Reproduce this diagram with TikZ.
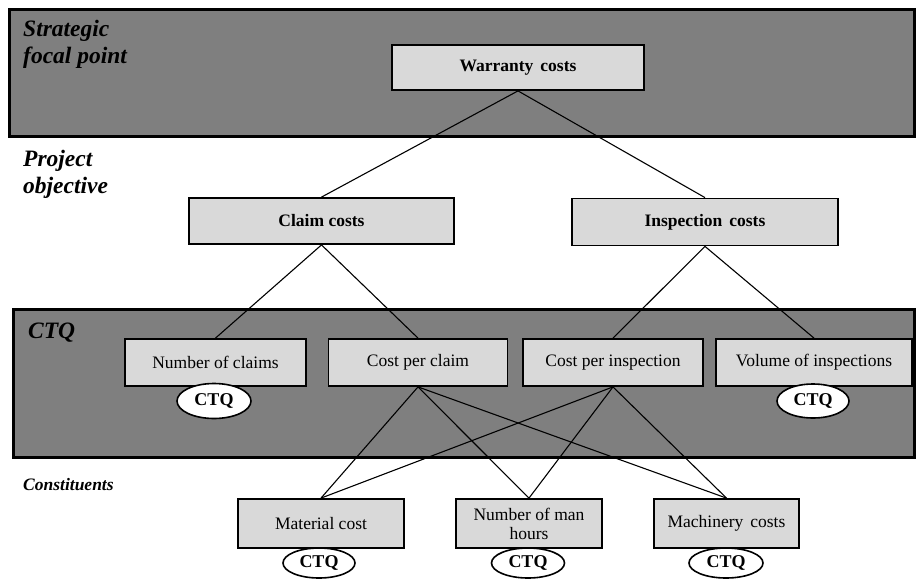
\documentclass[tikz,border=0pt]{standalone}
\usepackage{fontspec}
\setmainfont{Liberation Serif}
\usetikzlibrary{shapes.geometric}
\definecolor{bandgray}{HTML}{7F7F7F}
\definecolor{boxgray}{HTML}{D9D9D9}
\begin{document}
\begin{tikzpicture}[x=1pt,y=-1pt,
  band/.style={draw=black,line width=3pt,fill=bandgray},
  bandlabel/.style={anchor=base west,inner sep=0,font=\fontsize{23.5}{27}\selectfont\bfseries\itshape,align=left},
  boxnode/.style={draw=black,line width=1.8pt,fill=boxgray,inner sep=0,font=\fontsize{17.5}{19}\selectfont,align=center},
  topbox/.style={boxnode,font=\fontsize{17.5}{19}\selectfont\bfseries},
  ctq/.style={ellipse,draw=black,line width=1.6pt,fill=white,inner sep=0,font=\fontsize{18}{19}\selectfont\bfseries},
  link/.style={line width=1.1pt,draw=black}]
\useasboundingbox (0,0) rectangle (916,579);
\fill[white] (0,0) rectangle (916,579);
% bands
\draw[band] (9,9) rectangle (914,136);
\draw[band] (13,309) rectangle (914.5,457);
% band labels
\node[bandlabel] (lab1) at (23,36) {Strategic};
\node[bandlabel] (lab1b) at (23,63) {focal point};
\node[bandlabel] (lab2) at (23,166) {Project};
\node[bandlabel] (lab2b) at (23,193) {objective};
\node[bandlabel] (lab3) at (28,338) {CTQ};
\node[bandlabel,font=\fontsize{17.5}{20}\selectfont\bfseries\itshape] (lab4) at (23,490) {Constituents};
% boxes
\node[topbox,minimum width=252,minimum height=45] (W) at (518,67.5) {Warranty\hspace{0.4em}costs};
\node[topbox,minimum width=265,minimum height=46] (C) at (321.5,221) {Claim costs};
\node[topbox,minimum width=266,minimum height=47] (I) at (705,222) {Inspection\hspace{0.4em}costs};
\node[boxnode,minimum width=181,minimum height=47] (NC) at (215.5,362.5) {Number of claims};
\node[boxnode,minimum width=179,minimum height=47] (CPC) at (418,362.5) {Cost per claim};
\node[boxnode,minimum width=180,minimum height=47] (CPI) at (613,362.5) {Cost per inspection};
\node[boxnode,minimum width=196,minimum height=47] (V) at (814,362.5) {Volume of inspections};
\node[boxnode,minimum width=166,minimum height=49] (M) at (321,523.5) {Material cost};
\node[boxnode,minimum width=146,minimum height=49] (MH) at (529,523.5) {Number of man\\hours};
\node[boxnode,minimum width=145,minimum height=49] (MC) at (726.5,523.5) {Machinery\hspace{0.4em}costs};
% connectors
\draw[link] (W.south) -- (C.north);
\draw[link] (W.south) -- (I.north);
\draw[link] (C.south) -- (NC.north);
\draw[link] (C.south) -- (CPC.north);
\draw[link] (I.south) -- (CPI.north);
\draw[link] (I.south) -- (V.north);
\draw[link] (CPC.south) -- (M.north);
\draw[link] (CPC.south) -- (MH.north);
\draw[link] (CPC.south) -- (MC.north);
\draw[link] (CPI.south) -- (M.north);
\draw[link] (CPI.south) -- (MH.north);
\draw[link] (CPI.south) -- (MC.north);
% CTQ ellipses
\node[ctq,minimum width=74,minimum height=35] (e1) at (214,401) {CTQ};
\node[ctq,minimum width=72,minimum height=34] (e2) at (813,401) {CTQ};
\node[ctq,minimum width=72,minimum height=30] (e3) at (319,563) {CTQ};
\node[ctq,minimum width=73,minimum height=30] (e4) at (528,563) {CTQ};
\node[ctq,minimum width=74,minimum height=30] (e5) at (726,563) {CTQ};
\end{tikzpicture}
\end{document}
